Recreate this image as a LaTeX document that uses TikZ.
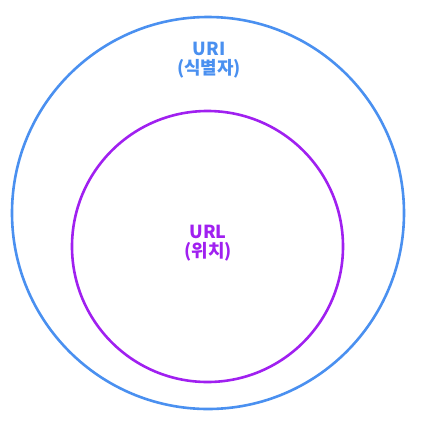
\documentclass[tikz,border=0pt]{standalone}
\usepackage{fontspec}
\setmainfont{Noto Sans CJK KR}
\usetikzlibrary{positioning}
\definecolor{uriColor}{RGB}{74,144,240}
\definecolor{urlColor}{RGB}{160,32,240}
\tikzstyle{diagram} = [x = 1bp, y = -1bp]
\tikzstyle{ringStyle} = [circle, line width = 2.6bp, inner sep = 0pt]
\tikzstyle{ringText} = [font=\bfseries\fontsize{18}{19}\selectfont, align=center]
\begin{document}
\begin{tikzpicture}[diagram]
  \useasboundingbox (0,0) rectangle (422,421);
  % outer set
  \node [ringStyle, draw=uriColor, minimum size = 392bp] (uri) at (208,213) {};
  \node [ringText, text=uriColor] (uriLabel) at (209,60) {URI\\(식별자)};
  % inner set
  \node [ringStyle, draw=urlColor, minimum size = 271bp] (url) at (207.5,246.5) {};
  \node [ringText, text=urlColor] (urlLabel) at (208,243) {URL\\(위치)};
\end{tikzpicture}
\end{document}
